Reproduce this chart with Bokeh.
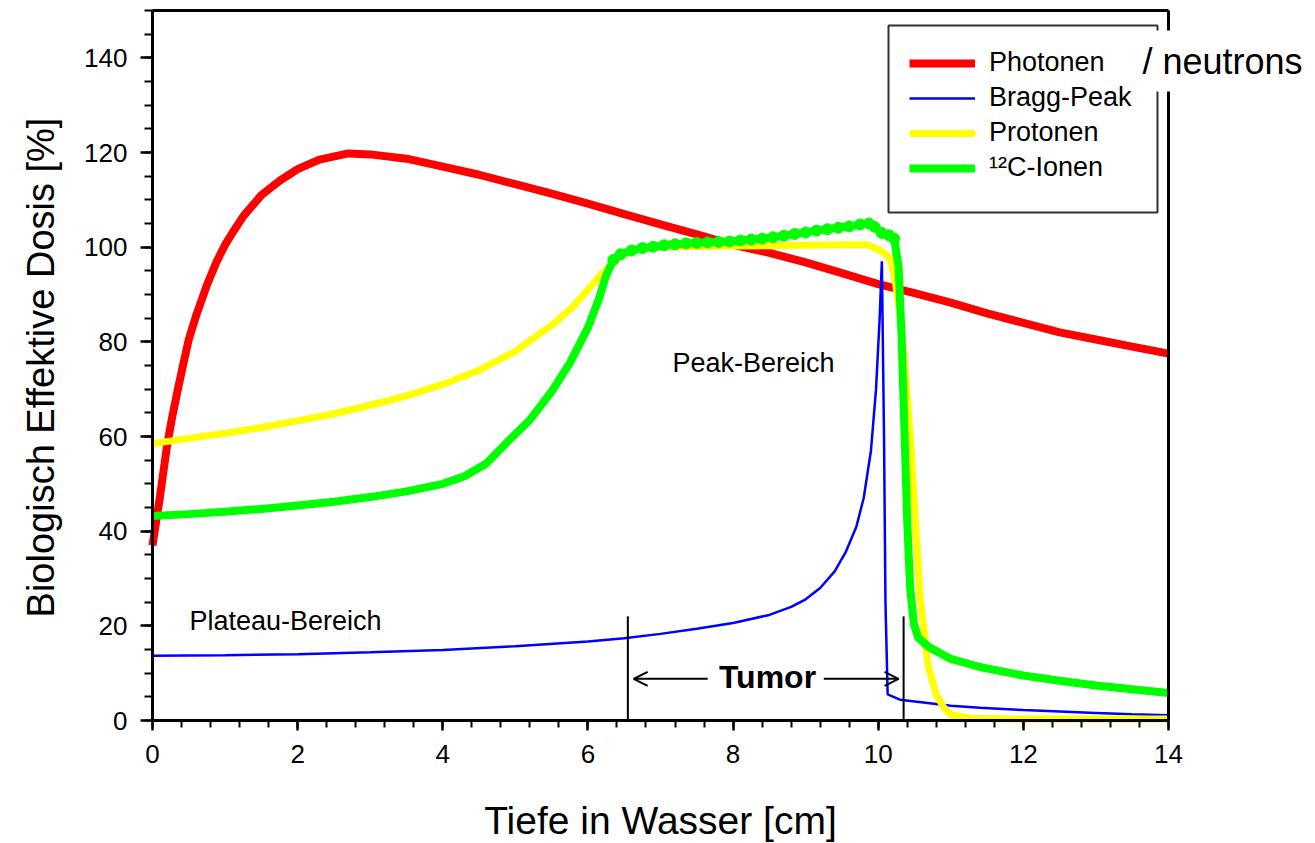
from bokeh.plotting import figure
from bokeh.models import (Range1d, LinearAxis, SingleIntervalTicker, FixedTicker, Legend,
                          LegendItem, Label, Arrow, OpenHead, ColumnDataSource,
                          BoxAnnotation)
from bokeh.embed import file_html
from bokeh.resources import INLINE

# Depth-dose curves in water (depth in cm, biologically effective dose in %)
photon_depth = [0, 0.05, 0.1, 0.15, 0.2, 0.27, 0.35, 0.42, 0.5, 0.6, 0.75, 0.88, 1.0, 1.1,
                1.25, 1.5, 1.75, 2.0, 2.3, 2.7, 3.0, 3.5, 4.0, 4.5, 5.0, 5.5, 6.0, 6.5, 7.0,
                7.5, 8.0, 8.5, 9.0, 9.5, 10.0, 10.5, 11.0, 11.5, 12.0, 12.5, 13.0, 13.5, 14.0]
photon_dose = [37, 42, 47, 52.5, 58, 64, 70, 75, 80.5, 85.5, 92, 96.8, 100.5, 103, 106.5,
               111, 114, 116.5, 118.5, 119.8, 119.6, 118.7, 117, 115.3, 113.3, 111.3, 109.2,
               107, 104.8, 102.7, 100.5, 98.8, 96.8, 94.5, 92.2, 90.3, 88.3, 86, 84, 82,
               80.5, 79, 77.5]

bragg_depth = [0, 1, 2, 3, 4, 5, 6, 6.5, 7, 7.5, 8, 8.5, 8.8, 9.0, 9.2, 9.4, 9.55, 9.7, 9.8,
               9.9, 9.97, 10.02, 10.05, 10.08, 10.1, 10.13, 10.3, 11.0, 11.4, 12.0, 12.5,
               13.0, 13.5, 14.0]
bragg_dose = [13.7, 13.8, 14.0, 14.4, 14.9, 15.7, 16.7, 17.4, 18.3, 19.4, 20.6, 22.3, 24,
              25.6, 28, 31.5, 35.5, 41, 47, 57, 70, 85, 97, 60, 25, 5.5, 4.4, 3.1, 2.7, 2.2,
              1.9, 1.6, 1.3, 1.1]

proton_depth = [0, 0.5, 1, 1.5, 2, 2.5, 3, 3.5, 4, 4.5, 5, 5.5, 5.8, 6.0, 6.2, 6.4, 6.6, 6.8,
                7.5, 8.5, 9.5, 9.85, 10.03, 10.17, 10.24, 10.31, 10.38, 10.45, 10.52, 10.58,
                10.69, 10.8, 10.9, 11.0, 11.3, 12.0, 13.0, 14.0]
proton_dose = [58.5, 59.6, 60.7, 61.9, 63.3, 64.8, 66.6, 68.6, 71, 74, 78, 83.5, 87.5, 91,
               94.5, 97.5, 99.3, 100, 100.2, 100.3, 100.5, 100.5, 99.3, 97.6, 92.3, 84.5, 72,
               58, 40, 25.4, 11.3, 5.5, 2.8, 1.2, 0.4, 0.3, 0.3, 0.3]

carbon_depth = [0, 0.5, 1, 1.5, 2, 2.5, 3, 3.5, 4, 4.3, 4.6, 4.9, 5.2, 5.5, 5.75, 6.0, 6.15,
                6.25, 6.35, 6.45, 6.6, 6.75, 6.9, 7.05, 7.2, 7.35, 7.5, 7.65, 7.8, 7.95, 8.1,
                8.25, 8.4, 8.55, 8.7, 8.85, 9.0, 9.15, 9.3, 9.45, 9.6, 9.75, 9.87, 9.95,
                10.05, 10.15, 10.22, 10.28, 10.32, 10.36, 10.40, 10.44, 10.49, 10.55, 10.7,
                11.0, 11.4, 12.0, 12.5, 13.0, 13.5, 14.0]
carbon_dose = [43.2, 43.6, 44.1, 44.7, 45.4, 46.2, 47.2, 48.4, 50, 51.6, 54.3, 59, 63.5, 69.5,
               75.5, 83, 89, 94, 97.3, 98.5, 99.3, 99.8, 100.1, 100.4, 100.6, 100.8, 100.9,
               101.0, 101.1, 101.2, 101.4, 101.6, 101.8, 102.1, 102.4, 102.8, 103.1, 103.5,
               103.8, 104.1, 104.4, 104.8, 105.0, 104.3, 103.0, 102.5, 101.8, 96, 82, 62, 42,
               28, 20.5, 17.5, 15.5, 13.0, 11.3, 9.5, 8.4, 7.4, 6.6, 5.8]

# Tumour region markers
tumor_edges = [6.55, 10.35]
tumor_edge_top = 22
arrow_tail = [7.65, 9.25]
arrow_tip = [6.63, 10.28]
arrow_level = 8.8

X_MAX, Y_MAX = 14, 150

FONT = "Liberation Sans"
RED, BLUE, YELLOW, GREEN = "#ff0000", "#0000ff", "#ffff00", "#00ff00"

# The frame fills the whole canvas; the axes sit at fixed data positions inside it,
# so that titles and notes may be placed anywhere on the page.
W, H = 1315, 843
AX_LEFT, AX_RIGHT, AX_TOP, AX_BOTTOM = 152, 1168, 10, 720
kx = (AX_RIGHT - AX_LEFT) / X_MAX
ky = (AX_BOTTOM - AX_TOP) / Y_MAX
x_range = Range1d(-AX_LEFT / kx, (W - AX_LEFT) / kx)
y_range = Range1d(-(H - AX_BOTTOM) / ky, Y_MAX + AX_TOP / ky)


def px_x(sx):
    """canvas pixel column -> depth"""
    return (sx - AX_LEFT) / kx


def px_y(sy):
    """canvas pixel row -> dose"""
    return (AX_BOTTOM - sy) / ky


p = figure(width=W, height=H, x_range=x_range, y_range=y_range,
           output_backend="svg", toolbar_location=None,
           x_axis_location=None, y_axis_location=None, min_border=0)
p.xgrid.visible = False
p.ygrid.visible = False
p.outline_line_color = None
p.background_fill_color = "white"
p.border_fill_color = "white"

xa = LinearAxis(fixed_location=0, bounds=(0, X_MAX),
                ticker=SingleIntervalTicker(interval=2, num_minor_ticks=5))
ya = LinearAxis(fixed_location=0, bounds=(0, Y_MAX),
                ticker=SingleIntervalTicker(interval=20, num_minor_ticks=4))
for ax in (xa, ya):
    ax.axis_line_width = 3
    ax.axis_line_color = "black"
    ax.major_tick_line_width = 2.5
    ax.minor_tick_line_width = 2
    ax.major_tick_line_color = "black"
    ax.minor_tick_line_color = "black"
    ax.major_tick_in = 0
    ax.minor_tick_in = 0
    ax.major_label_text_font = FONT
    ax.major_label_text_font_size = "26px"
    ax.major_label_text_color = "black"
xa.major_tick_out = 10
xa.minor_tick_out = 7
xa.major_label_standoff = 14
ya.major_tick_out = 12
ya.minor_tick_out = 8
ya.major_label_standoff = 13
p.add_layout(xa, "below")
p.add_layout(ya, "left")

# frame border on top and right
for side, loc, bnd in (("above", Y_MAX, (0, X_MAX)), ("right", X_MAX, (0, Y_MAX))):
    border = LinearAxis(fixed_location=loc, bounds=bnd, ticker=FixedTicker(ticks=[]),
                        axis_line_width=3, axis_line_color="black", major_tick_out=0,
                        minor_tick_out=0, major_tick_in=0, minor_tick_in=0,
                        major_label_standoff=0)
    p.add_layout(border, side)

# dose curves
r_photon = p.line(photon_depth, photon_dose, line_color=RED, line_width=8,
                  line_join="round")
r_bragg = p.line(bragg_depth, bragg_dose, line_color=BLUE, line_width=2.5)
r_proton = p.line(proton_depth, proton_dose, line_color=YELLOW, line_width=7,
                  line_join="round")
r_carbon = p.line(carbon_depth, carbon_dose, line_color=GREEN, line_width=8,
                  line_join="round")
plateau = [(d, v) for d, v in zip(carbon_depth, carbon_dose) if 6.3 <= d <= 10.25]
p.scatter([d for d, _ in plateau], [v for _, v in plateau], size=11,
          fill_color=GREEN, line_color=GREEN)

# tumour edges and arrows
p.segment(x0=tumor_edges, y0=[0, 0], x1=tumor_edges, y1=[tumor_edge_top] * 2,
          line_color="black", line_width=2)
arrows = ColumnDataSource(dict(xs=arrow_tail, xe=arrow_tip,
                               ys=[arrow_level] * 2, ye=[arrow_level] * 2))
p.add_layout(Arrow(source=arrows, x_start="xs", y_start="ys", x_end="xe", y_end="ye",
                   line_width=2, line_color="black",
                   end=OpenHead(size=14, line_width=2, line_color="black")))


def text(sx, baseline, s, size, angle=0, **kw):
    """Place a text by its pixel anchor; `baseline` is the pixel row (or column when
    rotated) of the text's baseline."""
    shift = 0.3465 * size          # baseline -> middle of the em box
    if angle:
        x, y = px_x(baseline - shift), px_y(sx)
    else:
        x, y = px_x(sx), px_y(baseline - shift)
    lab = Label(x=x, y=y, text=s, text_font=FONT, text_font_size=f"{size}px",
                text_color="black", text_baseline="middle", angle=angle,
                angle_units="deg", **kw)
    p.add_layout(lab)
    return lab


text(767, 688, "Tumor", 32, text_align="center", text_font_style="bold")
text(672, 372, "Peak-Bereich", 27)
text(189, 630, "Plateau-Bereich", 27)

# axis titles
text(660, 834, "Tiefe in Wasser [cm]", 39, text_align="center")
text(367, 54, "Biologisch Effektive Dosis [%]", 38, angle=90, text_align="center")

# legend frame, drawn as its own box so the note below can sit on top of it
LEG_L, LEG_R, LEG_T, LEG_B = 888, 1157, 25, 212
LEG_PAD = 21
p.add_layout(BoxAnnotation(left=px_x(LEG_L), right=px_x(LEG_R), top=px_y(LEG_T),
                           bottom=px_y(LEG_B), fill_color="white", fill_alpha=1.0,
                           line_color="#303030", line_width=2, line_alpha=1.0,
                           level="annotation"))

# borderless legend entries inside that box (4 rows of ~31.5 px, 4 px apart)
legend_rows_h = 4 * 31.5 + 3 * 4
legend = Legend(items=[
    LegendItem(label="Photonen", renderers=[r_photon]),
    LegendItem(label="Bragg-Peak", renderers=[r_bragg]),
    LegendItem(label="Protonen", renderers=[r_proton]),
    LegendItem(label="\u00b9\u00b2C-Ionen", renderers=[r_carbon]),
], location=(LEG_L + LEG_PAD, H - (LEG_T + LEG_PAD - 1) - legend_rows_h),
    label_text_font=FONT, label_text_font_size="27px", label_text_color="black",
    glyph_width=66, label_standoff=14, padding=0, spacing=4,
    border_line_color=None, background_fill_alpha=0.0, margin=0)
p.add_layout(legend)

# note pasted over the corner of the frame, on a white patch
note = Label(x=px_x(1131), y=px_y(73 - 0.3465 * 36), text="/ neutrons",
             text_font=FONT, text_font_size="36px", text_color="black",
             text_baseline="middle", background_fill_color="white",
             background_fill_alpha=1.0, padding=(11, 10), level="overlay")
p.add_layout(note)

open("out.html", "w").write(file_html(p, INLINE))
